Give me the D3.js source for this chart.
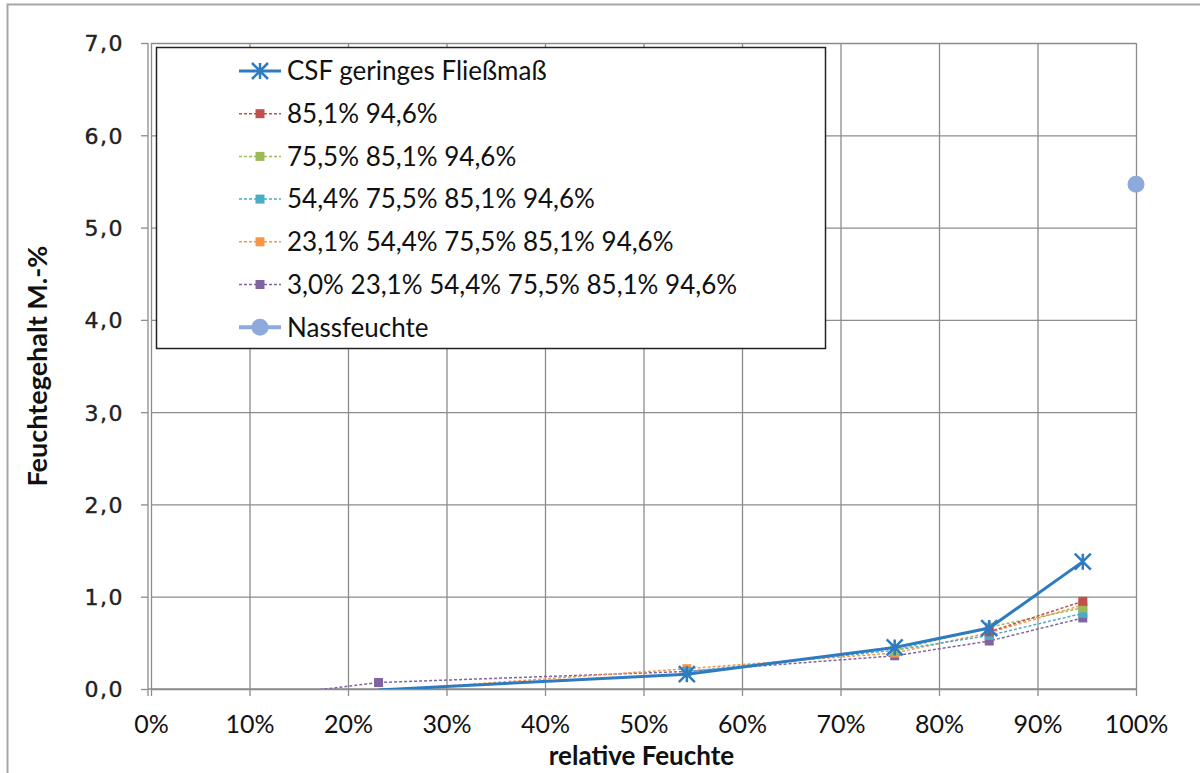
<!DOCTYPE html>
<html><head><meta charset="utf-8">
<script src="https://cdn.jsdelivr.net/npm/d3@7"></script>
<style>body{margin:0;background:#fff}svg{display:block}</style>
</head><body>
<svg id="c" width="1200" height="773"></svg>
<script>
// ---- data ----
const xTickValues = [0,10,20,30,40,50,60,70,80,90,100];
const yTickValues = [0,1,2,3,4,5,6,7];
const seriesNames = ["CSF geringes Fließmaß","85,1% 94,6%","75,5% 85,1% 94,6%","54,4% 75,5% 85,1% 94,6%","23,1% 54,4% 75,5% 85,1% 94,6%","3,0% 23,1% 54,4% 75,5% 85,1% 94,6%","Nassfeuchte"];
const csfX = [23.1,54.4,75.5,85.1,94.6];
const csfY = [-0.01,0.16,0.45,0.66,1.38];
const s851X = [85.1,94.6];
const s851Y = [0.62,0.95];
const s755X = [75.5,85.1,94.6];
const s755Y = [0.42,0.67,0.88];
const s544X = [54.4,75.5,85.1,94.6];
const s544Y = [0.19,0.42,0.58,0.82];
const s231X = [23.1,54.4,75.5,85.1,94.6];
const s231Y = [-0.02,0.22,0.39,0.61,0.91];
const s030X = [3.0,23.1,54.4,75.5,85.1,94.6];
const s030Y = [-0.19,0.07,0.19,0.36,0.52,0.77];
const nassX = [100];
const nassY = [5.47];
const xTitle = "relative Feuchte";
const yTitle = "Feuchtegehalt M.-%";

// ---- layout ----
const svg = d3.select("#c");
const L = 151, R = 1136, T = 43, B = 689;
const x = d3.scaleLinear().domain([0,100]).range([L,R]);
const y = d3.scaleLinear().domain([0,7]).range([B,T]);
const gridCol = "#8c8c8c";

// outer frame
svg.append("rect").attr("x",7.5).attr("y",4.5).attr("width",1220).attr("height",900)
  .attr("fill","none").attr("stroke","#a6a6a6").attr("stroke-width",2);

// gridlines
const g = svg.append("g");
g.append("g").attr("transform",`translate(0,${B})`)
  .call(d3.axisBottom(x).tickValues(xTickValues).tickSize(-(B-T)).tickFormat(""))
  .call(s=>{s.select(".domain").remove(); s.selectAll("line").attr("stroke",gridCol).attr("stroke-width",1.3);});
g.append("g").attr("transform",`translate(${L},0)`)
  .call(d3.axisLeft(y).tickValues(yTickValues).tickSize(-(R-L)).tickFormat(""))
  .call(s=>{s.select(".domain").remove(); s.selectAll("line").attr("stroke",gridCol).attr("stroke-width",1.3);});

// axes with outward ticks
const xa = svg.append("g").attr("transform",`translate(0,${B})`)
  .call(d3.axisBottom(x).tickValues(xTickValues).tickSize(7).tickSizeOuter(0).tickFormat(d=>d+"%"));
xa.select(".domain").attr("stroke",gridCol).attr("stroke-width",1.3).attr("d",`M${L-3},0H${R}`);
xa.selectAll("line").attr("stroke",gridCol).attr("stroke-width",1.3);
xa.selectAll("text").attr("font-family","Lato, 'Open Sans', sans-serif").attr("font-size",25)
  .attr("fill","#111").attr("dy","0").attr("y",44);

const ya = svg.append("g").attr("transform",`translate(${L-3},0)`)
  .call(d3.axisLeft(y).tickValues(yTickValues).tickSize(7).tickSizeOuter(0).tickFormat(d=>d3.format(".1f")(d).replace(".",",")));
ya.select(".domain").attr("stroke",gridCol).attr("stroke-width",1.3).attr("d",`M0,${T}V${B+7}`);
ya.selectAll("line").attr("stroke",gridCol).attr("stroke-width",1.3);
ya.selectAll("text").attr("font-family","'DejaVu Sans', Verdana, sans-serif").attr("font-size",22)
  .attr("fill","#222").attr("stroke","#222").attr("stroke-width",0.4)
  .attr("x",-24).attr("dy","0.36em").attr("letter-spacing",1.5);

// axis titles
svg.append("text").attr("x",(L+R)/2 - 2).attr("y",765).attr("text-anchor","middle")
  .attr("font-family","Lato, sans-serif").attr("font-weight","bold").attr("font-size",26).attr("fill","#111").text(xTitle);
svg.append("text").attr("transform",`translate(47,${(T+B)/2}) rotate(-90)`).attr("text-anchor","middle")
  .attr("font-family","Lato, sans-serif").attr("font-weight","bold").attr("font-size",27).attr("fill","#111").text(yTitle);

// clip
svg.append("clipPath").attr("id","pa").append("rect").attr("x",L).attr("y",T).attr("width",R-L+60).attr("height",B-T);

const series = [
  {name:seriesNames[5], xs:s030X, ys:s030Y, color:"#8064A2", type:"sq"},
  {name:seriesNames[4], xs:s231X, ys:s231Y, color:"#F79646", type:"sq"},
  {name:seriesNames[3], xs:s544X, ys:s544Y, color:"#4BACC6", type:"sq"},
  {name:seriesNames[2], xs:s755X, ys:s755Y, color:"#9BBB59", type:"sq"},
  {name:seriesNames[1], xs:s851X, ys:s851Y, color:"#C0504D", type:"sq"},
  {name:seriesNames[0], xs:csfX, ys:csfY, color:"#2E7BC2", type:"star"},
  {name:seriesNames[6], xs:nassX, ys:nassY, color:"#8EA9DB", type:"circle"}
];

const plot = svg.append("g");
const line = d3.line().x(d=>x(d[0])).y(d=>y(d[1]));

function marker(sel, type, color, cx, cy){
  if(type==="sq"){
    sel.append("rect").attr("x",cx-4.5).attr("y",cy-4.5).attr("width",9).attr("height",9).attr("fill",color);
  } else if(type==="star"){
    const r=8;
    sel.append("path").attr("d",`M${cx-r},${cy-r}L${cx+r},${cy+r}M${cx-r},${cy+r}L${cx+r},${cy-r}M${cx},${cy-r}V${cy+r}`)
      .attr("stroke",color).attr("stroke-width",2.5).attr("fill","none");
  } else {
    sel.append("circle").attr("cx",cx).attr("cy",cy).attr("r",8.5).attr("fill",color);
  }
}

series.forEach(s=>{
  const pts = s.xs.map((v,i)=>[v,s.ys[i]]);
  if(pts.length>1){
    plot.append("path").datum(pts).attr("d",line).attr("clip-path","url(#pa)")
      .attr("fill","none").attr("stroke",s.color)
      .attr("stroke-width",s.type==="star"?3:1.5)
      .attr("stroke-dasharray",s.type==="sq"?"3,2":null);
  }
  pts.forEach(p=>{ if(p[1]>=0 && p[1]<=7) marker(plot,s.type,s.color,x(p[0]),y(p[1])); });
});

// legend
const lg = svg.append("g");
lg.append("rect").attr("x",156.5).attr("y",47.5).attr("width",669).attr("height",301)
  .attr("fill","#fff").attr("stroke","#222").attr("stroke-width",1.5);
const legendOrder = [5,4,3,2,1,0,6];
legendOrder.forEach((si,i)=>{
  const s = series[si];
  const cy = 71 + i*42.7;
  lg.append("line").attr("x1",239).attr("x2",281).attr("y1",cy).attr("y2",cy)
    .attr("stroke",s.color).attr("stroke-width",s.type==="star"?3:(s.type==="circle"?4:1.5))
    .attr("stroke-dasharray",s.type==="sq"?"3,2":null);
  marker(lg,s.type,s.color,260,cy);
  lg.append("text").attr("x",287).attr("y",cy).attr("dy","0.36em")
    .attr("font-family","Lato, 'Open Sans', sans-serif").attr("font-size",26).attr("fill","#111").text(s.name);
});
</script>
</body></html>
